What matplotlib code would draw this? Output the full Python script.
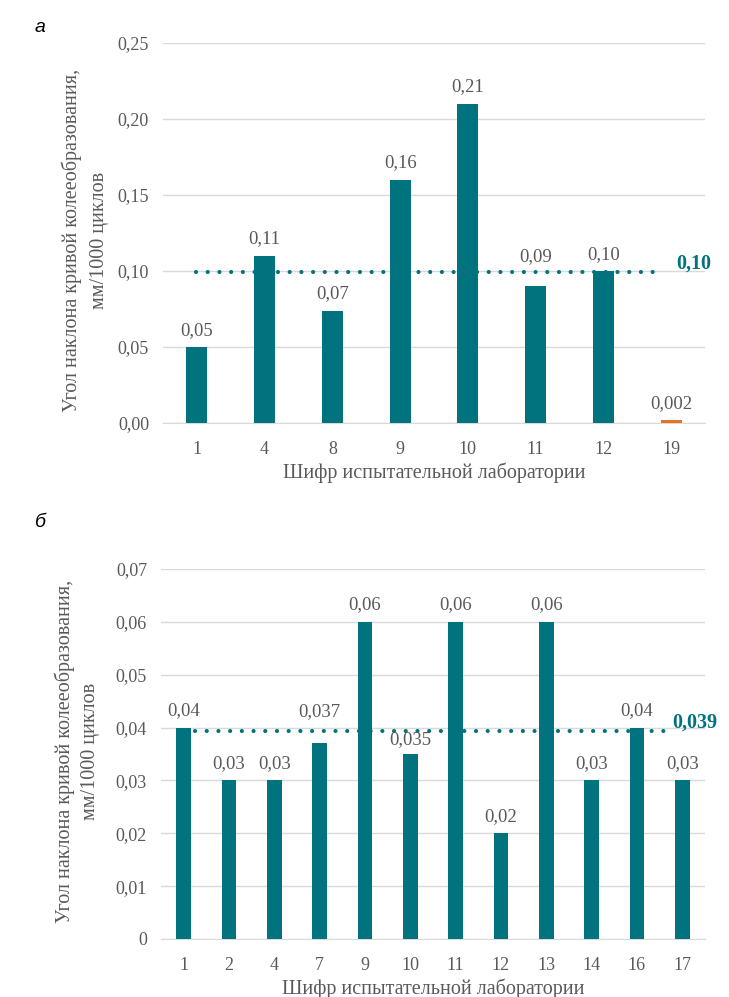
from matplotlib import pyplot as plt
import numpy as np

plt.rcParams.update({"font.family": ["Liberation Serif", "DejaVu Serif"], "font.size": 12.5})

TEAL = "#00737E"
ORANGE = "#E8702A"
GRAY = "#595959"
GRID = "#D9D9D9"

# (а) laboratory codes and slope values
labs_a = ["1", "4", "8", "9", "10", "11", "12", "19"]
slope_a = [0.05, 0.11, 0.074, 0.16, 0.21, 0.09, 0.10, 0.002]
text_a = ["0,05", "0,11", "0,07", "0,16", "0,21", "0,09", "0,10", "0,002"]
colors_a = [TEAL] * 7 + [ORANGE]

# (б)
labs_b = ["1", "2", "4", "7", "9", "10", "11", "12", "13", "14", "16", "17"]
slope_b = [0.04, 0.03, 0.03, 0.037, 0.06, 0.035, 0.06, 0.02, 0.06, 0.03, 0.04, 0.03]
text_b = ["0,04", "0,03", "0,03", "0,037", "0,06", "0,035", "0,06", "0,02",
          "0,06", "0,03", "0,04", "0,03"]

YLABEL = "Угол наклона кривой колееобразования,\nмм/1000 циклов"
XLABEL = "Шифр испытательной лаборатории"


def comma(v, digits):
    return f"{v:.{digits}f}".replace(".", ",")


def draw_panel(ax, labs, values, texts, colors, ymax, ystep, tick_labels,
               mean_digits, mean_span, mean_dx, width, lift=None):
    lift = lift or {}
    x = np.arange(len(labs))
    ax.bar(x, values, width=width, color=colors, zorder=3)
    for i, (xi, v, t) in enumerate(zip(x, values, texts)):
        # labels that would sit on the mean line are pushed above it
        ax.annotate(t, (xi, v), xytext=(0, 6 + lift.get(i, 0)),
                    textcoords="offset points", ha="center", va="bottom",
                    color=GRAY, fontsize=13.5, zorder=5)

    mean = np.mean(values)
    ax.plot(mean_span, [mean, mean], color=TEAL, lw=3.0,
            linestyle=(0, (0.01, 2.8)), dash_capstyle="round", zorder=4)
    ax.annotate(comma(mean, mean_digits), (mean_span[1], mean), xytext=(mean_dx, 6),
                textcoords="offset points", ha="left", va="center",
                color=TEAL, fontweight="bold", fontsize=14.5, zorder=5,
                annotation_clip=False)

    ax.set_xlim(-0.5, len(labs) - 0.5)
    ax.set_ylim(0, ymax)
    ax.set_yticks(np.arange(0, ymax + ystep / 2, ystep))
    ax.set_yticklabels(tick_labels)
    ax.set_xticks(x)
    ax.set_xticklabels(labs)
    ax.tick_params(axis="y", length=0, colors=GRAY, labelsize=13, pad=10)
    ax.tick_params(axis="x", length=0, colors=GRAY, labelsize=13, pad=13)
    ax.grid(axis="y", color=GRID, lw=1, zorder=0)
    for s in ["top", "right", "left"]:
        ax.spines[s].set_visible(False)
    ax.spines["bottom"].set_color(GRID)
    ax.set_xlabel(XLABEL, color=GRAY, fontsize=14.5, labelpad=3)


fig = plt.figure(figsize=(7.29, 9.97), dpi=100)
ax_a = fig.add_axes([0.2236, 0.5757, 0.7434, 0.3812])
ax_b = fig.add_axes([0.2208, 0.0582, 0.7462, 0.3711])

ticks_a = [comma(t, 2) for t in np.arange(0, 0.26, 0.05)]
ticks_b = ["0"] + [comma(t, 2) for t in np.arange(0.01, 0.075, 0.01)]

draw_panel(ax_a, labs_a, slope_a, text_a, colors_a, 0.25, 0.05, ticks_a, 2,
           (-0.01, 6.89), 9, 0.31, lift={5: 9})
draw_panel(ax_b, labs_b, slope_b, text_b, TEAL, 0.07, 0.01, ticks_b, 3,
           (0.25, 10.75), 1, 0.32, lift={3: 11, 5: -2})

# rotated axis titles placed by hand so both panels line up
fig.text(0.1166, 0.7593, YLABEL, rotation=90, ha="center", va="center",
         multialignment="center", linespacing=1.55, color=GRAY, fontsize=14.5)
fig.text(0.1063, 0.2467, YLABEL, rotation=90, ha="center", va="center",
         multialignment="center", linespacing=1.45, color=GRAY, fontsize=14.5)

fig.text(0.048, 0.972, "а", family="Liberation Sans", style="italic",
         fontsize=14, ha="left", va="center")
fig.text(0.048, 0.476, "б", family="Liberation Sans", style="italic",
         fontsize=14, ha="left", va="center")

fig.savefig("out.png", dpi=100)
